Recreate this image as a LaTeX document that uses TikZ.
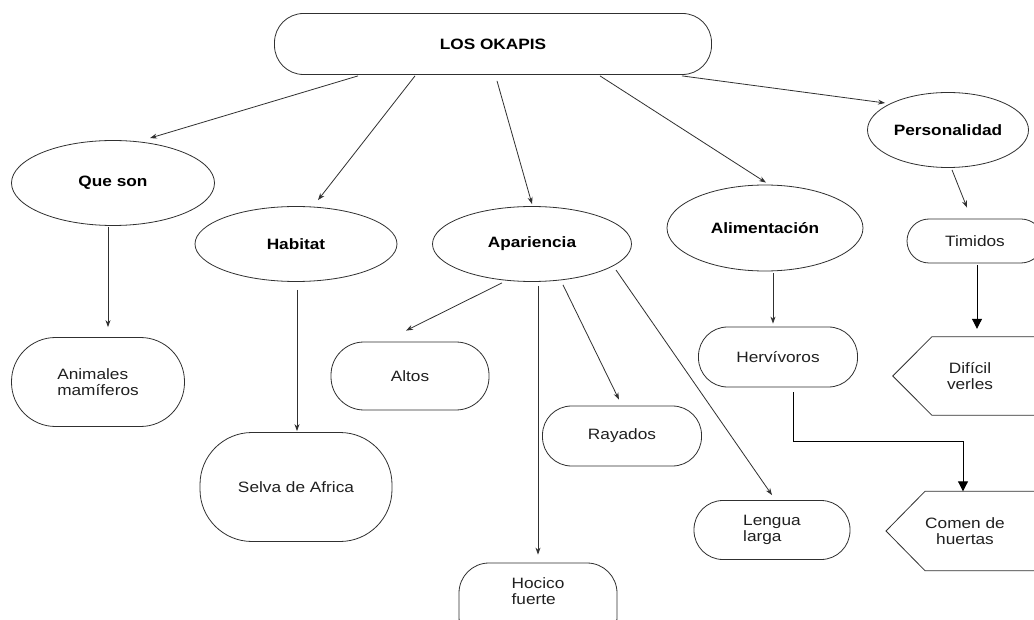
\documentclass[tikz,border=0pt]{standalone}
\usepackage{fontspec}
\setmainfont{Liberation Sans}[FakeStretch=1.15]
\usetikzlibrary{shapes.geometric,arrows.meta}
\definecolor{ink}{HTML}{303030}
\definecolor{txt}{HTML}{202020}
\begin{document}
\begin{tikzpicture}[x=1pt,y=-1pt,
  every node/.style={font=\fontsize{15}{16}\selectfont, inner sep=0pt, text=txt},
  oval/.style={ellipse, draw=ink, line width=0.8pt, text=black,
    font=\fontsize{15}{16}\selectfont\bfseries},
  pill/.style={rectangle, draw=ink, line width=0.8pt, rounded corners=#1},
  pill/.default=28pt,
  plain/.style={rectangle, minimum height=78pt},
  thin/.style={draw=ink, line width=0.8pt, -{Stealth[length=7pt,width=5pt]}},
  thick/.style={draw=black, line width=1pt, -{Triangle[length=10pt,width=10pt]}},
  shape line/.style={draw=ink, line width=0.8pt}
]
\useasboundingbox (0,0) rectangle (1034,620);
\fill[white] (0,0) rectangle (1034,620);
\clip (0,0) rectangle (1034,620);

% title
\node[pill=29pt, minimum width=437pt, minimum height=61pt, text=black,
  font=\fontsize{15}{16}\selectfont\bfseries] (top) at (493,44) {LOS OKAPIS};

% first level
\node[oval, minimum width=203pt, minimum height=85pt] (que) at (113,183) {Que son};
\node[oval, minimum width=202pt, minimum height=75pt] (hab) at (296,244) {Habitat};
\node[oval, minimum width=199pt, minimum height=75pt] (apa) at (532,244) {Apariencia};
\node[oval, minimum width=196pt, minimum height=86pt] (ali) at (765,228) {Alimentación};
\node[oval, minimum width=161pt, minimum height=75pt] (per) at (948,130) {Personalidad};

% second level
\node[pill=44pt, minimum width=173pt, minimum height=89pt, align=left] (ani) at (98,382) {Animales\\mamíferos};
\node[pill=52pt, minimum width=192pt, minimum height=109pt] (selva) at (296,487) {Selva de Africa};
\node[pill=33pt, minimum width=158pt, minimum height=68pt] (alt) at (410,376) {Altos};
\node[pill=29pt, minimum width=159pt, minimum height=60pt] (ray) at (622,436) {Rayados};
\node[pill=30pt, minimum width=158pt, minimum height=84pt] (hoc) at (538,605) {};
\node[align=left] (hoct) at (538,591) {Hocico\\fuerte};
\node[pill=29pt, minimum width=156pt, minimum height=59pt, align=left] (len) at (772,530) {Lengua\\larga};
\node[pill=29pt, minimum width=159pt, minimum height=60pt] (her) at (778,357) {Hervívoros};
\node[pill=22pt, minimum width=136pt, minimum height=44pt] (tim) at (975,241) {Timidos};

% pointed boxes at the right edge
\node[plain, minimum width=76pt, align=center] (dif) at (970,376) {Difícil\\verles};
\draw[shape line] ([xshift=120pt]dif.north east) -- (dif.north west)
  -- ([xshift=-39pt]dif.west) -- (dif.south west) -- ([xshift=120pt]dif.south east);
\node[plain, minimum width=78pt, minimum height=79pt, align=center] (com) at (965,531) {Comen de\\huertas};
\draw[shape line] ([xshift=120pt]com.north east) -- (com.north west)
  -- ([xshift=-39pt]com.west) -- (com.south west) -- ([xshift=120pt]com.south east);

% connectors from the title
\draw[thin] ([shift={(-135,1)}]top.south) -- ([shift={(37,-2)}]que.north);
\draw[thin] ([shift={(-78,1)}]top.south) -- ([shift={(22,-6)}]hab.north);
\draw[thin] ([shift={(4,6)}]top.south) -- ([shift={(0,-2)}]apa.north);
\draw[thin] ([shift={(107,1)}]top.south) -- ([shift={(1,-2)}]ali.north);
\draw[thin] ([shift={(189,1)}]top.south) -- ([shift={(-63,-27)}]per.center);

% connectors of the first level
\draw[thin] ([shift={(-5,1)}]que.south) -- ([shift={(10,-10)}]ani.north);
\draw[thin] ([shift={(1,8)}]hab.south) -- ([shift={(1,-1)}]selva.north);
\draw[thin] ([shift={(-30,1)}]apa.south) -- ([shift={(-4,-11)}]alt.north);
\draw[thin] ([shift={(6,4)}]apa.south) -- ([shift={(0,-8)}]hoc.north);
\draw[thin] ([shift={(31,3)}]apa.south) -- ([shift={(-3,-6)}]ray.north);
\draw[thin] ([shift={(84,26)}]apa.center) -- ([shift={(0,-5)}]len.north);
\draw[thin] ([shift={(8,2)}]ali.south) -- ([shift={(-5,-3)}]her.north);
\draw[thin] ([shift={(4,2)}]per.south) -- ([shift={(-8,-11)}]tim.north);

% heavy connectors
\draw[thick] ([shift={(2,2)}]tim.south) -- ([shift={(7,-8)}]dif.north);
\draw[thick] ([shift={(15,5)}]her.south) -- ++(0,49) -| ([xshift=-2pt]com.north);
\end{tikzpicture}
\end{document}
